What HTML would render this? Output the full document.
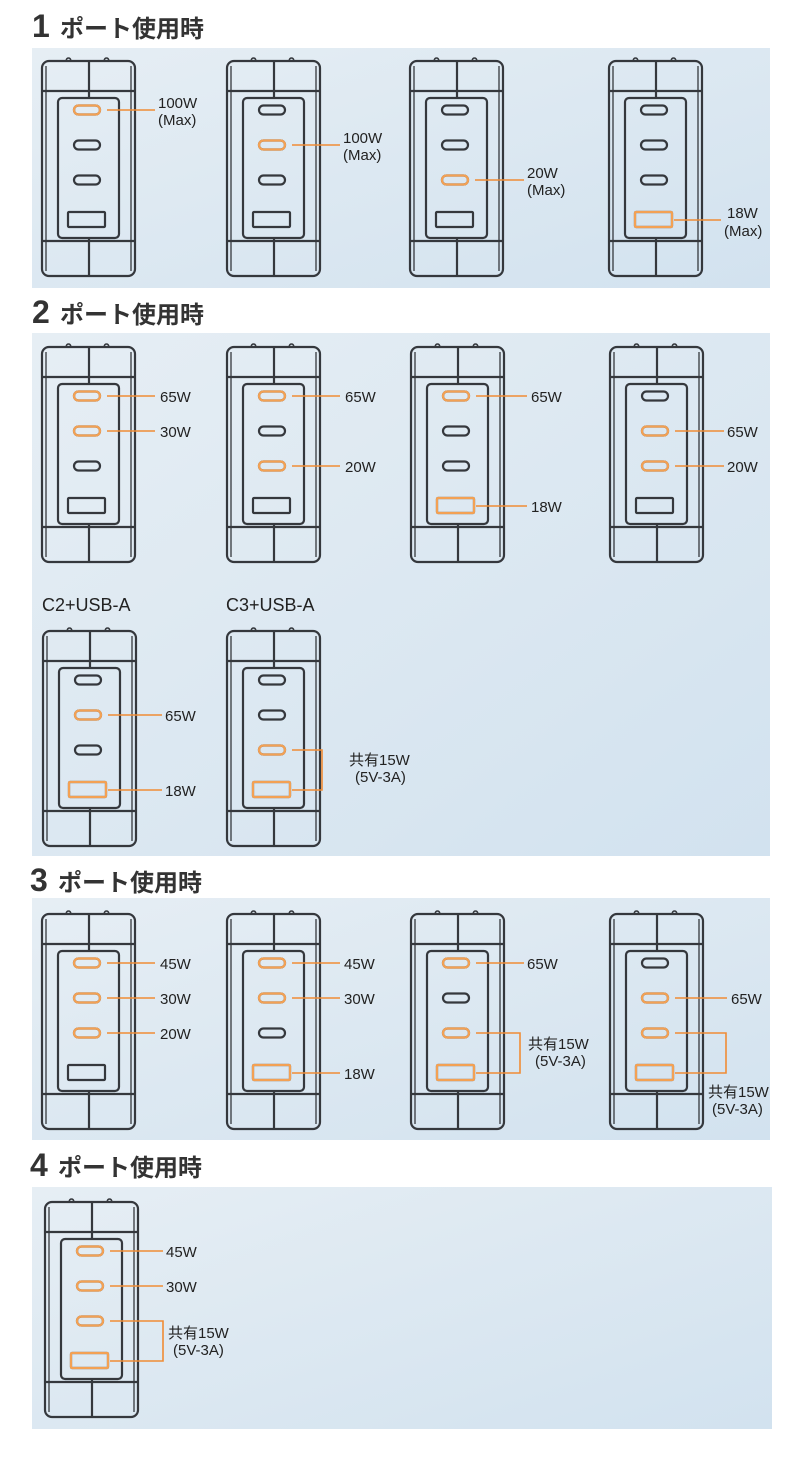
<!DOCTYPE html>
<html><head><meta charset="utf-8"><style>
html,body{margin:0;padding:0;background:#fff;}
svg{display:block;}
text{font-family:"Liberation Sans","Noto Sans CJK JP",sans-serif;fill:#222;}
.h{font-weight:bold;fill:#333;}
.l{font-size:15px;}
.o{stroke:#f08c35;stroke-width:1.6;fill:none;}
.op{stroke:#f3a154;stroke-width:2.2;fill:none;}
</style></head><body>
<svg width="800" height="1461" viewBox="0 0 800 1461" xmlns="http://www.w3.org/2000/svg">
<defs>
<linearGradient id="bg" x1="0" y1="0" x2="1" y2="1">
<stop offset="0" stop-color="#e6eef4"/><stop offset="1" stop-color="#d2e2ef"/></linearGradient>
<g id="ch" fill="none" stroke="#35383d" stroke-width="2.2">
<path d="M25 4 q0 -4 2.5 -4 q2.5 0 2.5 4 M63 4 q0 -4 2.5 -4 q2.5 0 2.5 4" stroke-width="1.5"/>
<rect x="1" y="3" width="93" height="215" rx="7"/>
<path d="M5 8 V213 M90 8 V213" stroke-width="1.3"/>
<path d="M1 33 H94 M1 183 H94"/>
<path d="M48 3 V40 M48 180 V218"/>
<rect x="17" y="40" width="61" height="140" rx="4"/>
<rect x="33" y="47.5" width="26" height="9" rx="4.5"/>
<rect x="33" y="82.5" width="26" height="9" rx="4.5"/>
<rect x="33" y="117.5" width="26" height="9" rx="4.5"/>
<rect x="27" y="154" width="37" height="15" rx="1"/>
</g>
<rect id="cp" x="33" y="-4.5" width="26" height="9" rx="4.5" class="op"/>
<rect id="up" x="27" y="154" width="37" height="15" rx="1" class="op"/>
</defs>

<rect x="32" y="48" width="738" height="240" fill="url(#bg)"/>
<rect x="32" y="333" width="738" height="523" fill="url(#bg)"/>
<rect x="32" y="898" width="738" height="242" fill="url(#bg)"/>
<rect x="32" y="1187" width="740" height="242" fill="url(#bg)"/>

<text class="h" x="32" y="37" font-size="32">1</text><text class="h" x="60" y="37" font-size="24">ポート使用時</text>
<text class="h" x="32" y="323" font-size="32">2</text><text class="h" x="60" y="323" font-size="24">ポート使用時</text>
<text class="h" x="30" y="891" font-size="32">3</text><text class="h" x="58" y="891" font-size="24">ポート使用時</text>
<text class="h" x="30" y="1176" font-size="32">4</text><text class="h" x="58" y="1176" font-size="24">ポート使用時</text>

<g transform="translate(41,58)"><use href="#ch"/><use href="#cp" y="52"/></g>
<path class="o" d="M107 110 H155"/><text class="l" x="158" y="108">100W</text><text class="l" x="158" y="125">(Max)</text>
<g transform="translate(226,58)"><use href="#ch"/><use href="#cp" y="87"/></g>
<path class="o" d="M292 145 H340"/><text class="l" x="343" y="143">100W</text><text class="l" x="343" y="160">(Max)</text>
<g transform="translate(409,58)"><use href="#ch"/><use href="#cp" y="122"/></g>
<path class="o" d="M475 180 H524"/><text class="l" x="527" y="178">20W</text><text class="l" x="527" y="195">(Max)</text>
<g transform="translate(608,58)"><use href="#ch"/><use href="#up"/></g>
<path class="o" d="M674 220 H721"/><text class="l" x="727" y="218">18W</text><text class="l" x="724" y="236">(Max)</text>

<g transform="translate(41,344)"><use href="#ch"/><use href="#cp" y="52"/><use href="#cp" y="87"/></g>
<path class="o" d="M107 396 H155 M107 431 H155"/><text class="l" x="160" y="402">65W</text><text class="l" x="160" y="437">30W</text>
<g transform="translate(226,344)"><use href="#ch"/><use href="#cp" y="52"/><use href="#cp" y="122"/></g>
<path class="o" d="M292 396 H340 M292 466 H340"/><text class="l" x="345" y="402">65W</text><text class="l" x="345" y="472">20W</text>
<g transform="translate(410,344)"><use href="#ch"/><use href="#cp" y="52"/><use href="#up"/></g>
<path class="o" d="M476 396 H527 M476 506 H527"/><text class="l" x="531" y="402">65W</text><text class="l" x="531" y="512">18W</text>
<g transform="translate(609,344)"><use href="#ch"/><use href="#cp" y="87"/><use href="#cp" y="122"/></g>
<path class="o" d="M675 431 H724 M675 466 H724"/><text class="l" x="727" y="437">65W</text><text class="l" x="727" y="472">20W</text>

<text x="42" y="611" font-size="18">C2+USB-A</text>
<text x="226" y="611" font-size="18">C3+USB-A</text>
<g transform="translate(42,628)"><use href="#ch"/><use href="#cp" y="87"/><use href="#up"/></g>
<path class="o" d="M108 715 H162 M108 790 H162"/><text class="l" x="165" y="721">65W</text><text class="l" x="165" y="796">18W</text>
<g transform="translate(226,628)"><use href="#ch"/><use href="#cp" y="122"/><use href="#up"/></g>
<path class="o" d="M292 750 H322 V790 H292"/><text class="l" x="349" y="765">共有15W</text><text class="l" x="355" y="782">(5V-3A)</text>

<g transform="translate(41,911)"><use href="#ch"/><use href="#cp" y="52"/><use href="#cp" y="87"/><use href="#cp" y="122"/></g>
<path class="o" d="M107 963 H155 M107 998 H155 M107 1033 H155"/><text class="l" x="160" y="969">45W</text><text class="l" x="160" y="1004">30W</text><text class="l" x="160" y="1039">20W</text>
<g transform="translate(226,911)"><use href="#ch"/><use href="#cp" y="52"/><use href="#cp" y="87"/><use href="#up"/></g>
<path class="o" d="M292 963 H340 M292 998 H340 M292 1073 H340"/><text class="l" x="344" y="969">45W</text><text class="l" x="344" y="1004">30W</text><text class="l" x="344" y="1079">18W</text>
<g transform="translate(410,911)"><use href="#ch"/><use href="#cp" y="52"/><use href="#cp" y="122"/><use href="#up"/></g>
<path class="o" d="M476 963 H524 M476 1033 H520 V1073 H476"/><text class="l" x="527" y="969">65W</text><text class="l" x="528" y="1049">共有15W</text><text class="l" x="535" y="1066">(5V-3A)</text>
<g transform="translate(609,911)"><use href="#ch"/><use href="#cp" y="87"/><use href="#cp" y="122"/><use href="#up"/></g>
<path class="o" d="M675 998 H727 M675 1033 H726 V1073 H675"/><text class="l" x="731" y="1004">65W</text><text class="l" x="708" y="1097">共有15W</text><text class="l" x="712" y="1114">(5V-3A)</text>

<g transform="translate(44,1199)"><use href="#ch"/><use href="#cp" y="52"/><use href="#cp" y="87"/><use href="#cp" y="122"/><use href="#up"/></g>
<path class="o" d="M110 1251 H163 M110 1286 H163 M110 1321 H163 V1361 H110"/>
<text class="l" x="166" y="1257">45W</text><text class="l" x="166" y="1292">30W</text>
<text class="l" x="168" y="1338">共有15W</text><text class="l" x="173" y="1355">(5V-3A)</text>
</svg>
</body></html>
